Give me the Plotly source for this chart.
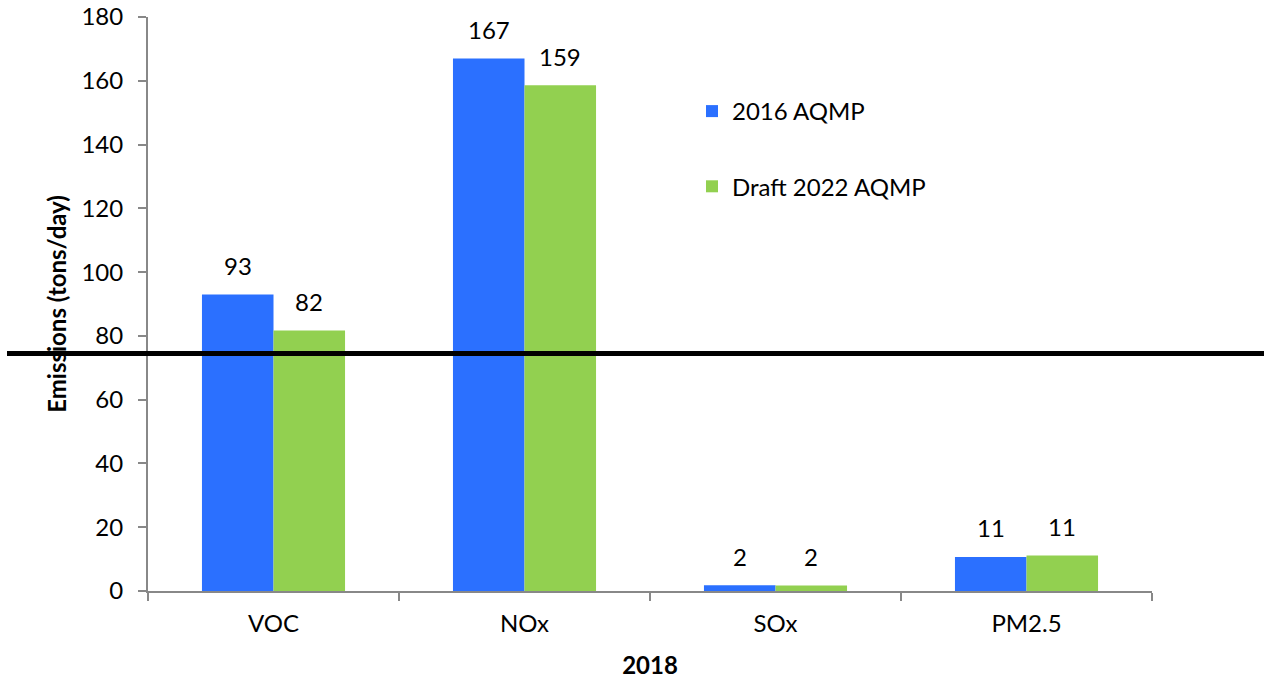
import plotly.graph_objects as go

categories = ["VOC", "NOx", "SOx", "PM2.5"]
series_names = ["2016 AQMP", "Draft 2022 AQMP"]
aqmp_2016 = [93.0, 167.0, 1.8, 10.7]
draft_2022 = [81.7, 158.6, 1.7, 11.1]
reference_level = 74.5
y_ticks = [0, 20, 40, 60, 80, 100, 120, 140, 160, 180]

colors = ["#2B70FF", "#92D050"]
FONT = "Lato"
FS = 24
W, H = 1268, 681
ML, MR, MT, MB = 148, 116, 17, 90
BARGAP = 0.43

fig = go.Figure()
for name, vals, col in zip(series_names, [aqmp_2016, draft_2022], colors):
    fig.add_trace(go.Bar(
        x=categories, y=vals, name=name, marker_color=col,
        marker_line_width=0, legendgroup=name,
    ))

# data labels above bars
plot_w = W - ML - MR
cat_w = plot_w / len(categories)
bar_w = cat_w * (1 - BARGAP) / 2
for i, vals in enumerate([aqmp_2016, draft_2022]):
    off = (i - 0.5) * bar_w
    for c, v in zip(categories, vals):
        fig.add_annotation(
            x=c, y=v, text=f"{round(v)}", showarrow=False,
            xshift=off, yshift=29, yanchor="middle", xanchor="center",
            font=dict(family=FONT, size=FS, color="#000000"),
        )

fig.add_shape(
    type="line", xref="paper", yref="y",
    x0=(7 - ML) / plot_w, x1=(1264 - ML) / plot_w,
    y0=reference_level, y1=reference_level,
    line=dict(color="#000000", width=5),
)

axis_col = "#888888"
fig.update_layout(
    width=W, height=H,
    margin=dict(l=ML, r=MR, t=MT, b=MB, autoexpand=False),
    paper_bgcolor="white", plot_bgcolor="white",
    barmode="group", bargap=BARGAP, bargroupgap=0,
    font=dict(family=FONT, size=FS, color="#000000"),
    showlegend=True,
    legend=dict(
        x=(692 - ML) / plot_w, y=(H - MB - 89) / (H - MT - MB),
        xanchor="left", yanchor="top",
        font=dict(family=FONT, size=FS, color="#000000"),
        traceorder="grouped", tracegroupgap=41,
        bgcolor="rgba(0,0,0,0)", itemwidth=30,
    ),
    xaxis=dict(
        automargin=False,
        showline=True, linecolor=axis_col, linewidth=2,
        ticks="outside", tickson="boundaries", ticklen=8,
        tickcolor=axis_col, tickwidth=2,
        showgrid=False,
        ticklabelstandoff=10,
        title=dict(text="<b>2018</b>", font=dict(family=FONT, size=FS), standoff=21),
        tickfont=dict(family=FONT, size=FS),
    ),
    yaxis=dict(
        automargin=False,
        range=[0, 180], tickvals=y_ticks,
        showline=True, linecolor=axis_col, linewidth=2,
        ticks="outside", ticklen=8, tickcolor=axis_col, tickwidth=2,
        showgrid=False, zeroline=False,
        ticklabelstandoff=10,
        title=dict(text="<b>Emissions (tons/day)</b>", font=dict(family=FONT, size=FS), standoff=8),
        tickfont=dict(family=FONT, size=FS),
    ),
)

fig.write_html("out.html", post_script="document.body.style.margin='0';",
               config={"displayModeBar": False})
